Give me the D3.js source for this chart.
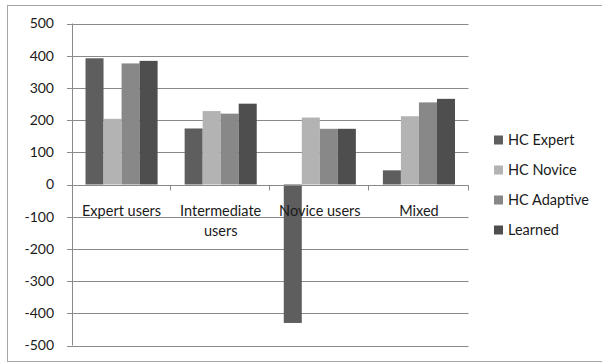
<!DOCTYPE html>
<html>
<head>
<meta charset="utf-8">
<script src="https://cdn.jsdelivr.net/npm/d3@7"></script>
<style>
  html, body { margin: 0; padding: 0; background: #fff; }
  svg { display: block; }
  text { font-family: Lato, "Open Sans", sans-serif; fill: #1a1a1a; }
</style>
</head>
<body>
<svg id="chart" width="602" height="363"></svg>
<script>
const categories = ["Expert users", "Intermediate users", "Novice users", "Mixed"];
const seriesNames = ["HC Expert", "HC Novice", "HC Adaptive", "Learned"];
const hcExpert   = [392, 174, -430, 44];
const hcNovice   = [204, 228, 208, 212];
const hcAdaptive = [376, 220, 173, 255];
const learned    = [384, 251, 173, 266];
const yTicks = [500, 400, 300, 200, 100, 0, -100, -200, -300, -400, -500];

const seriesValues = [hcExpert, hcNovice, hcAdaptive, learned];
const colors = ["#5e5e5e", "#b3b3b3", "#888888", "#4e4e4e"];

const svg = d3.select("#chart");

// chart frame
svg.append("rect")
  .attr("x", 7.5).attr("y", 5.5)
  .attr("width", 602).attr("height", 356)
  .attr("fill", "#fff").attr("stroke", "#a6a6a6").attr("stroke-width", 1);

const plot = { left: 72, right: 468.5, top: 23.5, bottom: 345.5 };

const y = d3.scaleLinear().domain([-500, 500]).range([plot.bottom, plot.top]);
const x = d3.scaleBand().domain(categories).range([plot.left, plot.right]).paddingInner(0).paddingOuter(0);

// each category holds 4 bars plus a gap of 1.5 bar widths split on both sides
const barW = x.bandwidth() / 5.5;
const barX = (cat, si) => x(cat) + 0.75 * barW + si * barW;

// gridlines with short outward ticks
svg.append("g")
  .selectAll("line")
  .data(yTicks)
  .join("line")
  .attr("x1", plot.left - 5).attr("x2", plot.right)
  .attr("y1", d => Math.round(y(d)) + 0.5).attr("y2", d => Math.round(y(d)) + 0.5)
  .attr("stroke", "#8a8a8a").attr("stroke-width", 1);

const yAxis = d3.axisLeft(y).tickValues(yTicks).tickSize(0).tickPadding(13)
  .tickFormat(d => String(d));
const yg = svg.append("g").attr("transform", `translate(${plot.left - 5},0)`).call(yAxis);
yg.select(".domain").remove();
yg.selectAll("text").attr("font-size", 14).attr("fill", "#1a1a1a")
  .attr("font-family", "Lato, 'Open Sans', sans-serif");

// vertical axis line
svg.append("line")
  .attr("x1", plot.left + 0.5).attr("x2", plot.left + 0.5)
  .attr("y1", plot.top).attr("y2", plot.bottom)
  .attr("stroke", "#8a8a8a");

// bars
seriesNames.forEach((name, si) => {
  svg.append("g")
    .selectAll("rect")
    .data(categories.map((c, i) => ({ c, v: seriesValues[si][i] })))
    .join("rect")
    .attr("x", d => barX(d.c, si))
    .attr("width", barW)
    .attr("y", d => Math.min(y(d.v), y(0)))
    .attr("height", d => Math.abs(y(d.v) - y(0)))
    .attr("fill", colors[si]);
});

// category axis at zero
const y0 = Math.round(y(0)) + 0.5;
svg.append("line")
  .attr("x1", plot.left).attr("x2", plot.right)
  .attr("y1", y0).attr("y2", y0)
  .attr("stroke", "#8a8a8a");
const bounds = categories.map(c => x(c)).concat([plot.right]);
svg.append("g").selectAll("line")
  .data(bounds.slice(1))
  .join("line")
  .attr("x1", d => Math.round(d) - 0.5).attr("x2", d => Math.round(d) - 0.5)
  .attr("y1", y0).attr("y2", y0 + 5)
  .attr("stroke", "#8a8a8a");

// category labels, wrapped onto two lines where needed
const labelLines = {
  "Expert users": ["Expert users"],
  "Intermediate users": ["Intermediate", "users"],
  "Novice users": ["Novice users"],
  "Mixed": ["Mixed"]
};
categories.forEach(c => {
  const cx = x(c) + x.bandwidth() / 2;
  const t = svg.append("text")
    .attr("x", cx)
    .attr("y", 216)
    .attr("text-anchor", "middle")
    .attr("font-size", 14.5);
  labelLines[c].forEach((ln, i) => {
    t.append("tspan").attr("x", cx).attr("dy", i === 0 ? 0 : 20).text(ln);
  });
});

// legend
const lg = svg.append("g").attr("transform", "translate(494,140)");
seriesNames.forEach((name, i) => {
  const row = lg.append("g").attr("transform", `translate(0,${i * 30})`);
  row.append("rect").attr("x", 0).attr("y", -4.5).attr("width", 9).attr("height", 9).attr("fill", colors[i]);
  row.append("text").attr("x", 14).attr("y", 0).attr("dy", "0.35em")
    .attr("font-size", 14.5).text(name);
});
</script>
</body>
</html>
